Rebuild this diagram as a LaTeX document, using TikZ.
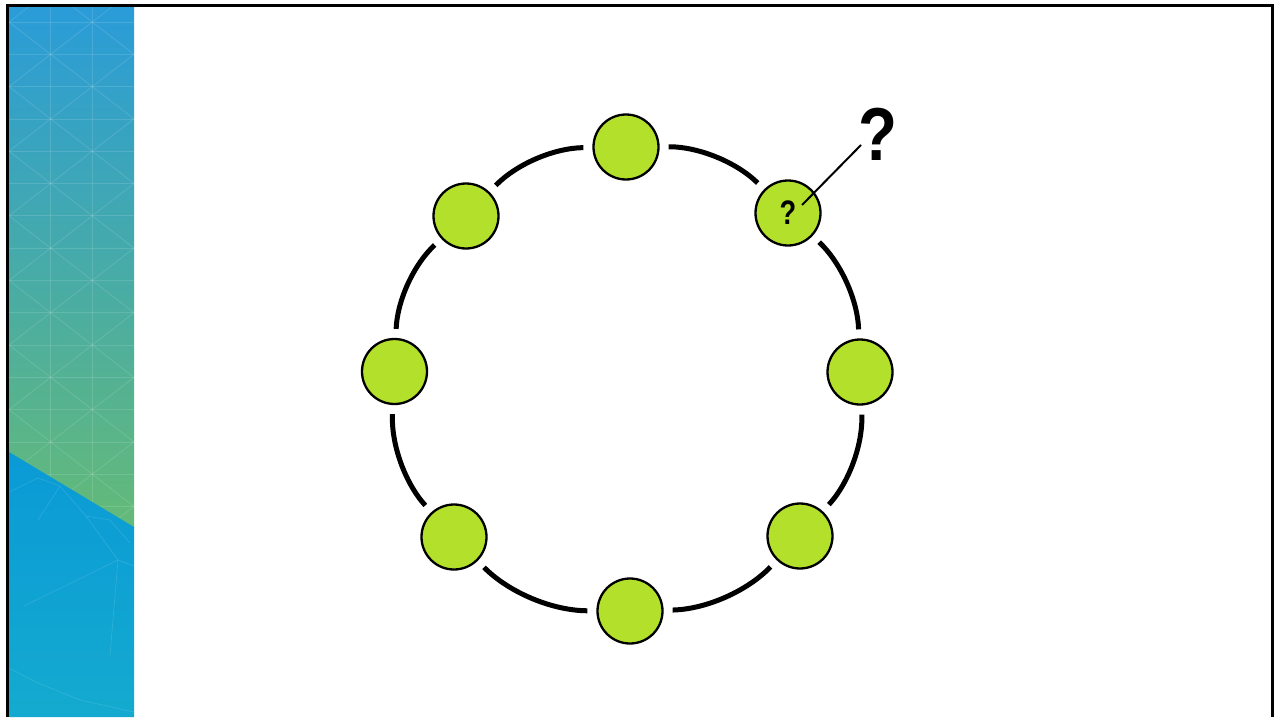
\documentclass[tikz,border=0pt]{standalone}
\usepackage{fontspec}
\newfontfamily\qfont{Liberation Sans}
\definecolor{ballgreen}{HTML}{B3E02A}
\definecolor{stripTop}{HTML}{2A9CD8}
\definecolor{stripMid}{HTML}{3EA7B0}
\definecolor{stripBot}{HTML}{64BA78}
\definecolor{lowTop}{HTML}{0A9AD6}
\definecolor{lowBot}{HTML}{14AACF}
\tikzset{
  ball/.style={circle, draw=black, line width=2.3pt, fill=ballgreen, minimum size=65pt, inner sep=0pt},
  ring/.style={line width=5pt, shorten >=9pt, shorten <=9pt, bend left=22.5, looseness=0.88},
  lattice/.style={white, opacity=0.13, line width=0.8pt},
  net/.style={white, opacity=0.12, line width=0.7pt},
  qmark/.style={font=\qfont\bfseries, inner sep=0pt}
}
\begin{document}
\begin{tikzpicture}[x=1pt,y=-1pt]
\useasboundingbox (0,0) rectangle (1276,717);
\fill[white] (0,0) rectangle (1276,717);
% left decorative strip
\shade[top color=stripTop, middle color=stripMid, bottom color=stripBot] (9,7) rectangle (134,527);
\begin{scope}
  \clip (9,7) -- (134,7) -- (134,527) -- (9,452) -- cycle;
  \foreach \xx in {50.7,92.3} \draw[lattice] (\xx,7) -- (\xx,527);
  \foreach \k in {0,...,16} \draw[lattice] (9,22+32.3*\k) -- (134,22+32.3*\k);
  \foreach \k in {-3,...,9} {
    \draw[lattice] (9,22+64.6*\k) -- (134,22+64.6*\k+96.9);
    \draw[lattice] (9,22+64.6*\k) -- (134,22+64.6*\k-96.9);
  }
\end{scope}
\shade[top color=lowTop, bottom color=lowBot] (9,452) -- (134,527) -- (134,717) -- (9,717) -- cycle;
\draw[net] (9,492) -- (38,478) -- (60,486) -- (86,516) -- (110,520) -- (130,543);
\draw[net] (86,516) -- (118,560) -- (134,566);
\draw[net] (24,606) -- (118,560) -- (110,655);
\draw[net] (9,668) -- (36,682) -- (80,700) -- (134,712);
\draw[net] (60,486) -- (38,520);
% frame
\draw[line width=3pt] (7.5,717) -- (7.5,5.5) -- (1272.5,5.5) -- (1272.5,717);
% ring nodes
\node[ball] (n1) at (626,147) {};
\node[ball] (n2) at (788,213) {};
\node[ball] (n3) at (860,372) {};
\node[ball] (n4) at (800,536) {};
\node[ball] (n5) at (630,611) {};
\node[ball] (n6) at (454,537) {};
\node[ball] (n7) at (394.5,371.5) {};
\node[ball] (n8) at (466,216) {};
\draw[ring] (n1) to (n2);
\draw[ring] (n2) to (n3);
\draw[ring] (n3) to (n4);
\draw[ring] (n4) to (n5);
\draw[ring] (n5) to (n6);
\draw[ring] (n6) to (n7);
\draw[ring] (n7) to (n8);
\draw[ring] (n8) to (n1);
% question marks
\node[qmark, font=\qfont\bfseries\fontsize{34}{34}\selectfont, xscale=0.8] (sq) at (788,213) {?};
\node[qmark, font=\qfont\bfseries\fontsize{75}{75}\selectfont, xscale=0.85] (bq) at (877.5,134.5) {?};
\coordinate (qa) at (802,205);
\coordinate (qb) at (861,145);
\draw[line width=2pt] (qa) -- (qb);
\end{tikzpicture}
\end{document}
